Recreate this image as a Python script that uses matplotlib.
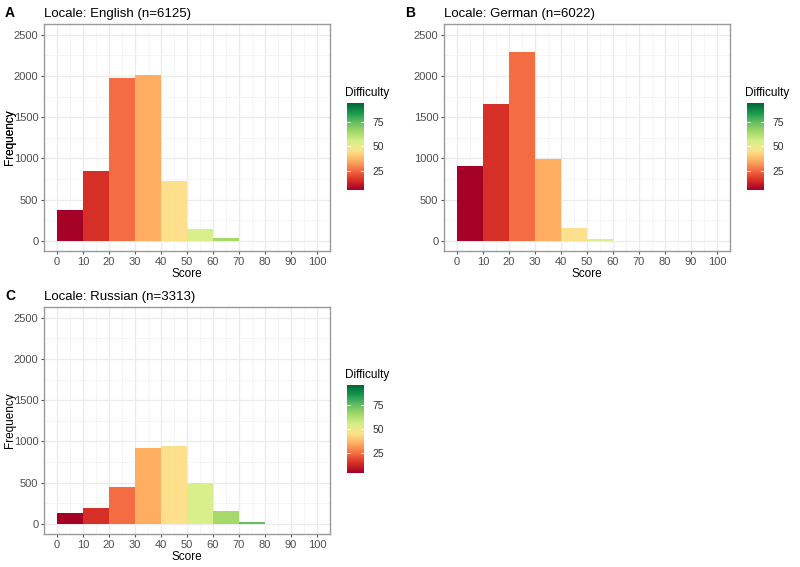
import numpy as np
import matplotlib
matplotlib.use("Agg")
import matplotlib.pyplot as plt
from matplotlib.colors import LinearSegmentedColormap, Normalize
from matplotlib.ticker import MultipleLocator

plt.rcParams['font.family'] = ['Liberation Sans', 'DejaVu Sans']

# histogram bins (score) and counts per locale
bin_left = [0, 10, 20, 30, 40, 50, 60, 70, 80, 90]
bin_mid = [5, 15, 25, 35, 45, 55, 65, 75, 85, 95]
english = [375, 845, 1980, 2005, 720, 148, 32, 2, 0, 0]
german = [905, 1665, 2285, 990, 150, 15, 1, 0, 0, 0]
russian = [135, 188, 450, 920, 945, 495, 150, 20, 0, 0]

titles = ["Locale: English (n=6125)", "Locale: German (n=6022)", "Locale: Russian (n=3313)"]
tags = ["A", "B", "C"]

pal = ["#a50026", "#d73027", "#f46d43", "#fdae61", "#fee08b",
       "#d9ef8b", "#a6d96a", "#66bd63", "#1a9850", "#006837"]
cmap = LinearSegmentedColormap.from_list("diff", pal)
norm = Normalize(vmin=5, vmax=95)

W, H = 800, 567
fig = plt.figure(figsize=(8, 5.67), dpi=100)

def rect(l, t, r, b):
    return [l / W, 1 - b / H, (r - l) / W, (b - t) / H]

# (plot box, colorbar box) in pixels
panels = [
    ((44, 24, 330, 251), (347, 103, 364, 190)),
    ((444, 24, 730, 251), (747, 103, 764, 190)),
    ((44, 307, 330, 534), (347, 385, 364, 473)),
]
data = [english, german, russian]

for i, (counts, (pbox, cbox)) in enumerate(zip(data, panels)):
    l, t, r, b = pbox
    ax = fig.add_axes(rect(*pbox))
    ax.bar(bin_left, counts, width=10, align='edge',
           color=cmap(norm(np.array(bin_mid))), edgecolor='none', zorder=2)
    ax.set_xlim(-5, 105)
    ax.set_ylim(-125, 2630)
    ax.xaxis.set_major_locator(MultipleLocator(10))
    ax.xaxis.set_minor_locator(MultipleLocator(5))
    ax.yaxis.set_major_locator(MultipleLocator(500))
    ax.yaxis.set_minor_locator(MultipleLocator(250))
    ax.grid(which='major', color='#ebebeb', lw=0.9, zorder=0)
    ax.grid(which='minor', color='#f2f2f2', lw=0.5, zorder=0)
    ax.set_axisbelow(True)
    for s in ax.spines.values():
        s.set_color('#9a9a9a')
        s.set_linewidth(1.0)
    ax.tick_params(which='major', length=2.5, color='#555555', width=0.8,
                   labelsize=8, labelcolor='#4d4d4d', pad=1.5)
    ax.tick_params(which='minor', length=0)
    ax.set_xlabel("Score", fontsize=8.5, labelpad=1)
    ax.set_ylabel("Frequency", fontsize=8.5, va='center')
    ax.yaxis.set_label_coords((10 - l) / (r - l), 0.5)
    ax.set_title(titles[i], fontsize=9.5, loc='left', pad=5)
    fig.text((l - 39) / W, 1 - (t - 11) / H, tags[i], fontsize=10,
             fontweight='bold', va='center', ha='left')

    # colourbar legend
    cax = fig.add_axes(rect(*cbox))
    grad = np.linspace(5, 95, 200).reshape(-1, 1)
    cax.imshow(grad, aspect='auto', cmap=cmap, norm=norm, origin='lower',
               extent=[0, 1, 5, 95])
    cax.set_xlim(0, 1)
    cax.set_ylim(5, 95)
    cax.set_xticks([])
    cax.yaxis.tick_right()
    cax.set_yticks([25, 50, 75])
    cax.tick_params(axis='y', length=0, labelsize=7.5, labelcolor='#333333', pad=6)
    for s in cax.spines.values():
        s.set_visible(False)
    for v in [25, 50, 75]:
        cax.plot([0, 0.2], [v, v], color='white', lw=0.6)
        cax.plot([0.8, 1], [v, v], color='white', lw=0.6)
    cl, ct, cr, cb = cbox
    fig.text(cl / W - 0.002, 1 - (ct - 10) / H, "Difficulty", fontsize=8.5,
             va='center', ha='left')

fig.savefig("out.png", dpi=100)
